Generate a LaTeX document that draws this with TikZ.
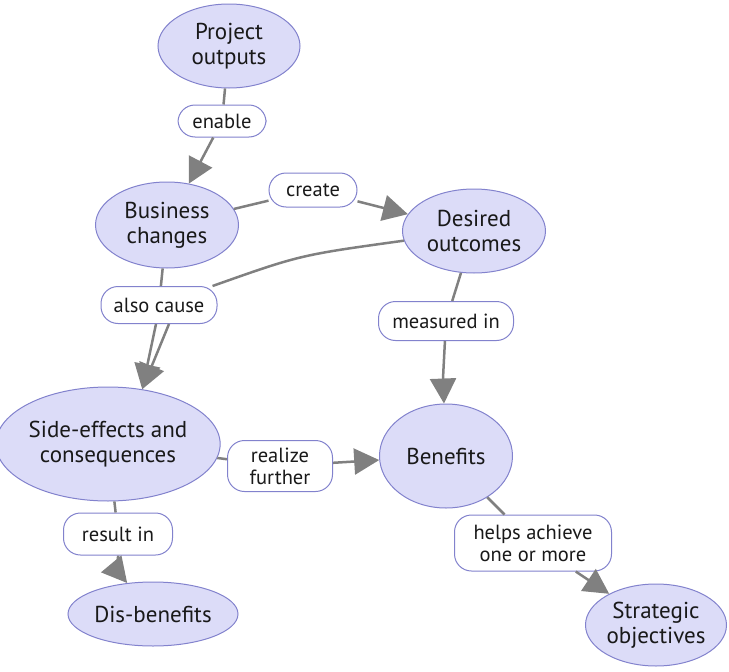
\documentclass[tikz,border=0pt]{standalone}
\usepackage{fontspec}
\setmainfont{PT Sans}
\usetikzlibrary{shapes.geometric,arrows.meta}
\definecolor{elfill}{RGB}{220,220,248}
\definecolor{eldraw}{RGB}{130,130,205}
\definecolor{lnk}{RGB}{128,128,128}
\begin{document}
\begin{tikzpicture}[x=1pt,y=-1pt,
  concept/.style={ellipse,draw=eldraw,fill=elfill,line width=1pt,inner sep=0pt,
    align=center,font=\fontsize{23}{25}\selectfont,text=black!90},
  lbl/.style={rounded corners=17pt,draw=eldraw,fill=white,line width=1pt,inner sep=0pt,
    align=center,font=\fontsize{20.5}{22}\selectfont,text=black!90},
  conn/.style={draw=lnk,line width=2.5pt},
  arr/.style={conn,-{Triangle[length=25pt,width=26pt]}}]
\useasboundingbox (0,0) rectangle (729,672);
% concepts
\node[concept,minimum width=142,minimum height=84] (po) at (229,46) {Project\\outputs};
\node[concept,minimum width=143,minimum height=86] (bc) at (167,225) {Business\\changes};
\node[concept,minimum width=143,minimum height=84] (do) at (474,231) {Desired\\outcomes};
\node[concept,minimum width=217,minimum height=114] (se) at (108,444) {Side-effects and\\consequences};
\node[concept,minimum width=133,minimum height=104] (bn) at (446,456) {Benefits};
\node[concept,minimum width=170,minimum height=64] (db) at (153,614) {Dis-benefits};
\node[concept,minimum width=141,minimum height=82] (so) at (656,625) {Strategic\\objectives};
% labels
\node[lbl,minimum width=88,minimum height=32] (en) at (222,121) {enable};
\node[lbl,minimum width=88,minimum height=34] (cr) at (313,190) {create};
\node[lbl,minimum width=116,minimum height=37] (ac) at (159,305) {also cause};
\node[lbl,minimum width=135,minimum height=39] (mi) at (446,321) {measured in};
\node[lbl,minimum width=105,minimum height=51] (rf) at (280,466) {realize\\further};
\node[lbl,minimum width=109,minimum height=42] (ri) at (118,534) {result in};
\node[lbl,minimum width=157,minimum height=56] (ha) at (533,543) {helps achieve\\one or more};
% connectors
\draw[conn] (po) -- (en);
\draw[arr] (en) -- (bc);
\draw[conn] (bc) -- (cr);
\draw[arr] (cr) -- (do);
\draw[conn] (bc) -- (ac);
\draw[conn] (do) .. controls (300,255) .. (ac);
\draw[arr] ([xshift=-3]ac.south) -- (se.58);
\draw[arr] ([xshift=10]ac.south) -- (se.58);
\draw[conn] (do) -- (mi);
\draw[arr] (mi) .. controls (443,378) .. (bn);
\draw[conn] (se) -- (rf);
\draw[arr] (rf) -- (bn);
\draw[conn] (se) -- (ri);
\draw[arr] (ri) .. controls (118,572) .. (db);
\draw[conn] (bn) -- (ha);
\draw[arr] (ha) -- (so);
\end{tikzpicture}
\end{document}
